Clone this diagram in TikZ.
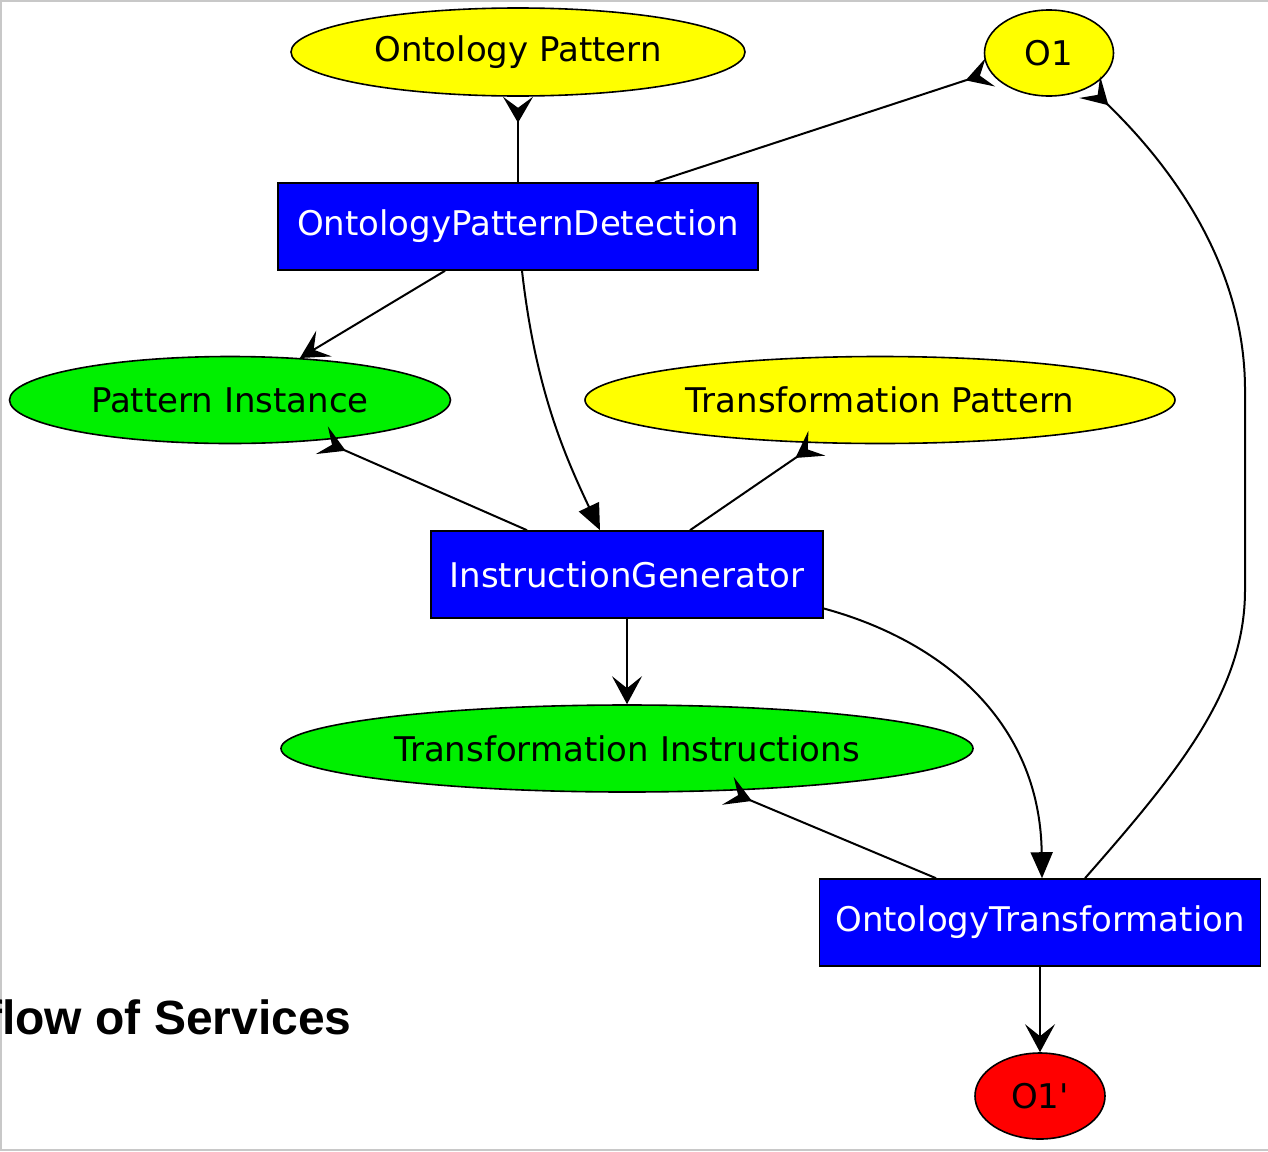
\documentclass[tikz,border=0pt]{standalone}
\usepackage{fontspec}
\setmainfont{DejaVu Sans}
\newfontfamily\nodefont{DejaVu Sans}
\newfontfamily\titlefont{Liberation Sans}
\usetikzlibrary{arrows.meta,calc,shapes.geometric}
\definecolor{ylw}{RGB}{255,255,0}
\definecolor{grn}{RGB}{0,240,0}
\definecolor{blu}{RGB}{0,0,255}
\definecolor{rd}{RGB}{255,0,0}
\definecolor{frame}{RGB}{200,200,200}
\tikzset{
  base/.style={draw=black, line width=0.8pt, inner sep=0pt, font=\nodefont\fontsize{17}{20}\selectfont},
  ell/.style={base, ellipse},
  svc/.style={base, rectangle, fill=blu, text=white, minimum height=43.5pt},
  conn/.style={line width=1pt, black},
  vee/.style={conn, -{Stealth[length=14pt, width=15pt, inset=6pt]}},
  rvee/.style={conn, -{Stealth[length=13pt, width=15pt, inset=5.5pt, reversed]}},
  tri/.style={conn, -{Triangle[length=13pt, width=11pt]}}
}
\begin{document}
\begin{tikzpicture}[x=0.5pt, y=-0.5pt]
\useasboundingbox (0,0) rectangle (1268,1151);
\clip (0,0) rectangle (1268,1151);
% frame lines
\draw[frame, line width=0.8pt] (0,1) -- (1268,1);
\draw[frame, line width=0.8pt] (1,0) -- (1,1151);
\draw[frame, line width=0.8pt] (0,1150) -- (1268,1150);

% nodes
\node[ell, fill=ylw, minimum width=227pt, minimum height=44pt] (OP) at (518,52) {Ontology Pattern};
\node[ell, fill=ylw, minimum width=64.5pt, minimum height=43pt] (O1) at (1049,53) {O1};
\node[svc, minimum width=240pt] (ODP) at (518,226.5) {OntologyPatternDetection};
\node[ell, fill=grn, minimum width=220.5pt, minimum height=43.5pt] (PI) at (230,400) {Pattern Instance};
\node[ell, fill=ylw, minimum width=295pt, minimum height=43.5pt] (TP) at (880,400) {Transformation Pattern};
\node[svc, minimum width=196pt] (IG) at (627,574.5) {InstructionGenerator};
\node[ell, fill=grn, minimum width=346pt, minimum height=43.5pt] (TI) at (627,748.5) {Transformation Instructions};
\node[svc, minimum width=220.5pt] (OT) at (1040,922.5) {OntologyTransformation};
\node[ell, fill=rd, minimum width=65pt, minimum height=43pt] (O1p) at (1040,1096) {O1'};

\node[anchor=base east, inner sep=0pt, font=\titlefont\bfseries\fontsize{24}{28}\selectfont] (title) at (352,1034) {flow of Services};

% connectors
\draw[rvee] (ODP.north) -- (OP.south);
\draw[rvee] ($(ODP.north)+(137,0)$) -- (O1);
\draw[vee] ($(ODP.south)+(-73,0)$) -- (PI);
\draw[tri] ($(ODP.south)+(4,0)$) .. controls (535,385) and (562,450) .. ($(IG.north)+(-27,0)$);
\draw[rvee] ($(IG.north)+(-100,0)$) -- (PI);
\draw[rvee] ($(IG.north)+(63,0)$) -- (TP);
\draw[vee] (IG.south) -- (TI.north);
\draw[tri] ($(IG.east)+(0,34)$) .. controls (940,640) and (1040,720) .. ($(OT.north)+(2,0)$);
\draw[rvee] ($(OT.north)+(-104,0)$) -- (TI);
\draw[rvee] ($(OT.north)+(45,0)$) .. controls (1180,770) and (1245,690) .. (1245,590) -- (1245,390) .. controls (1245,260) and (1165,160) .. (O1.-40);
\draw[vee] (OT.south) -- (O1p.north);
\end{tikzpicture}
\end{document}
